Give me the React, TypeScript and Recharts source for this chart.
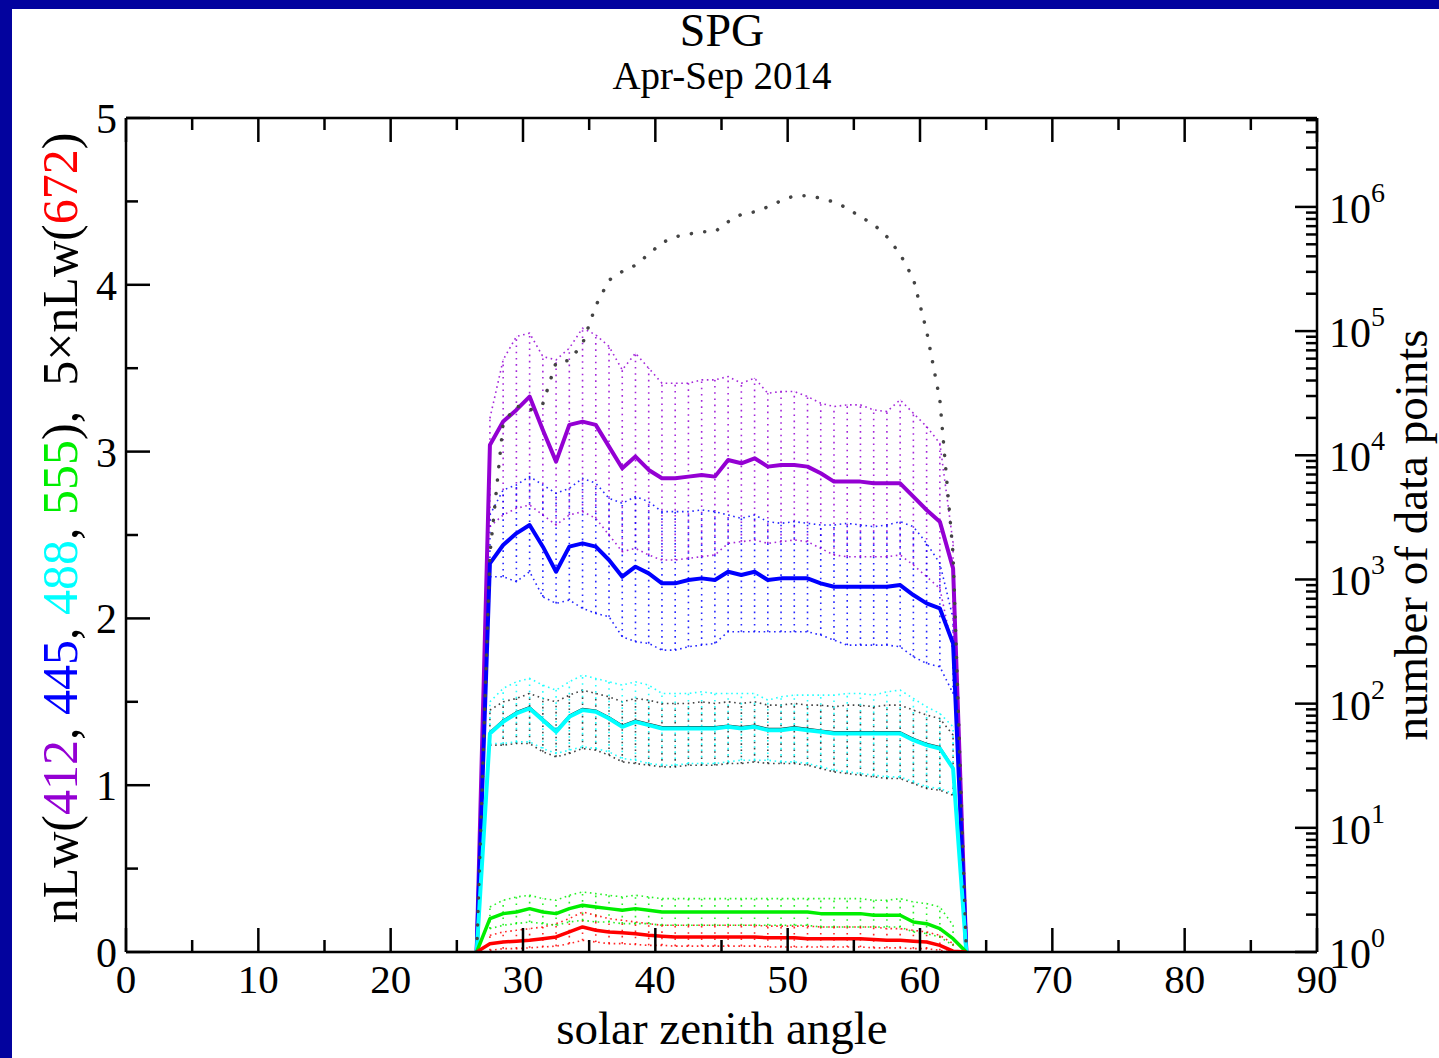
import React from 'react'
import { ComposedChart, Line, XAxis, YAxis, ErrorBar } from 'recharts'

// solar zenith angle bins (deg)
const sza = [
  26.5, 27.5, 28.5, 29.5, 30.5, 31.5, 32.5, 33.5, 34.5, 35.5, 36.5, 37.5, 38.5,
  39.5, 40.5, 41.5, 42.5, 43.5, 44.5, 45.5, 46.5, 47.5, 48.5, 49.5, 50.5, 51.5,
  52.5, 53.5, 54.5, 55.5, 56.5, 57.5, 58.5, 59.5, 60.5, 61.5, 62.5, 63.5,
]

const nlw412 = [0, 3.04, 3.18, 3.25, 3.33, 3.13, 2.94, 3.16, 3.18, 3.16, 3.03, 2.9, 2.97, 2.89, 2.84, 2.84, 2.85, 2.86, 2.85, 2.95, 2.93, 2.96, 2.91, 2.92, 2.92, 2.91, 2.87, 2.82, 2.82, 2.82, 2.81, 2.81, 2.81, 2.73, 2.65, 2.58, 2.3, 0]
const hi412 = [null, 3.2, 3.55, 3.69, 3.71, 3.57, 3.55, 3.62, 3.74, 3.7, 3.63, 3.49, 3.59, 3.5, 3.41, 3.41, 3.41, 3.43, 3.43, 3.45, 3.41, 3.44, 3.35, 3.36, 3.36, 3.33, 3.29, 3.27, 3.28, 3.28, 3.25, 3.24, 3.31, 3.23, 3.15, 3.05, 2.45, null]
const lo412 = [null, 2.55, 2.62, 2.66, 2.68, 2.62, 2.56, 2.62, 2.64, 2.6, 2.5, 2.4, 2.42, 2.38, 2.35, 2.35, 2.36, 2.37, 2.38, 2.45, 2.46, 2.47, 2.45, 2.46, 2.47, 2.46, 2.42, 2.38, 2.37, 2.37, 2.37, 2.37, 2.38, 2.32, 2.25, 2.18, 1.8, null]

const nlw445 = [0, 2.33, 2.44, 2.51, 2.56, 2.43, 2.28, 2.43, 2.45, 2.43, 2.35, 2.25, 2.31, 2.27, 2.21, 2.21, 2.23, 2.24, 2.23, 2.28, 2.26, 2.28, 2.23, 2.24, 2.24, 2.24, 2.21, 2.19, 2.19, 2.19, 2.19, 2.19, 2.2, 2.14, 2.09, 2.06, 1.85, 0]
const hi445 = [null, 2.62, 2.77, 2.8, 2.85, 2.8, 2.75, 2.78, 2.84, 2.81, 2.72, 2.69, 2.73, 2.7, 2.64, 2.64, 2.64, 2.65, 2.64, 2.62, 2.6, 2.62, 2.58, 2.57, 2.58, 2.57, 2.56, 2.56, 2.57, 2.56, 2.55, 2.56, 2.58, 2.55, 2.45, 2.33, 2.0, null]
const lo445 = [null, 2.25, 2.25, 2.22, 2.28, 2.13, 2.09, 2.11, 2.06, 2.03, 2.01, 1.89, 1.86, 1.85, 1.81, 1.81, 1.83, 1.84, 1.85, 1.92, 1.92, 1.92, 1.92, 1.92, 1.92, 1.92, 1.9, 1.87, 1.84, 1.84, 1.84, 1.84, 1.83, 1.77, 1.73, 1.71, 1.55, null]

const nlw488 = [0, 1.31, 1.38, 1.43, 1.46, 1.39, 1.32, 1.41, 1.45, 1.44, 1.4, 1.35, 1.38, 1.36, 1.34, 1.34, 1.34, 1.34, 1.34, 1.35, 1.34, 1.35, 1.33, 1.33, 1.34, 1.33, 1.32, 1.31, 1.31, 1.31, 1.31, 1.31, 1.31, 1.27, 1.24, 1.22, 1.1, 0]
const hi488 = [null, 1.5, 1.58, 1.62, 1.64, 1.6, 1.57, 1.62, 1.66, 1.64, 1.62, 1.6, 1.62, 1.6, 1.55, 1.55, 1.55, 1.56, 1.55, 1.55, 1.55, 1.55, 1.51, 1.53, 1.54, 1.54, 1.54, 1.54, 1.55, 1.55, 1.54, 1.56, 1.57, 1.52, 1.47, 1.43, 1.35, null]
const lo488 = [null, 1.25, 1.25, 1.26, 1.26, 1.22, 1.19, 1.21, 1.23, 1.22, 1.2, 1.16, 1.15, 1.13, 1.12, 1.12, 1.13, 1.13, 1.13, 1.14, 1.15, 1.15, 1.15, 1.14, 1.14, 1.13, 1.11, 1.09, 1.08, 1.07, 1.06, 1.05, 1.05, 1.02, 0.99, 0.98, 0.95, null]

// black reference series riding on the 488 curve
const nlwRef = [0, 1.32, 1.39, 1.44, 1.47, 1.4, 1.33, 1.42, 1.46, 1.45, 1.41, 1.36, 1.39, 1.37, 1.35, 1.35, 1.35, 1.35, 1.35, 1.36, 1.35, 1.36, 1.34, 1.34, 1.35, 1.34, 1.33, 1.32, 1.32, 1.32, 1.32, 1.32, 1.32, 1.28, 1.25, 1.23, 1.11, 0]
const hiRef = [null, 1.45, 1.5, 1.52, 1.55, 1.52, 1.5, 1.54, 1.57, 1.55, 1.53, 1.5, 1.52, 1.51, 1.49, 1.49, 1.49, 1.5, 1.49, 1.5, 1.49, 1.5, 1.48, 1.48, 1.49, 1.48, 1.48, 1.47, 1.48, 1.48, 1.47, 1.48, 1.48, 1.45, 1.42, 1.4, 1.3, null]
const loRef = [null, 1.24, 1.24, 1.25, 1.25, 1.2, 1.17, 1.19, 1.22, 1.21, 1.18, 1.14, 1.13, 1.12, 1.11, 1.11, 1.12, 1.12, 1.12, 1.13, 1.13, 1.14, 1.13, 1.13, 1.13, 1.12, 1.1, 1.08, 1.07, 1.06, 1.05, 1.04, 1.04, 1.01, 0.98, 0.97, 0.94, null]

const nlw555 = [0, 0.2, 0.23, 0.24, 0.26, 0.24, 0.23, 0.26, 0.28, 0.27, 0.26, 0.25, 0.26, 0.25, 0.24, 0.24, 0.24, 0.24, 0.24, 0.24, 0.24, 0.24, 0.24, 0.24, 0.24, 0.24, 0.23, 0.23, 0.23, 0.23, 0.22, 0.22, 0.22, 0.18, 0.17, 0.14, 0.08, 0]
const hi555 = [null, 0.27, 0.31, 0.33, 0.34, 0.32, 0.31, 0.34, 0.36, 0.35, 0.34, 0.33, 0.34, 0.33, 0.32, 0.32, 0.32, 0.32, 0.32, 0.32, 0.32, 0.32, 0.32, 0.32, 0.32, 0.32, 0.32, 0.32, 0.32, 0.32, 0.31, 0.31, 0.32, 0.3, 0.29, 0.27, 0.16, null]
const lo555 = [null, 0.14, 0.16, 0.17, 0.18, 0.17, 0.16, 0.18, 0.19, 0.18, 0.18, 0.17, 0.17, 0.17, 0.16, 0.16, 0.16, 0.16, 0.16, 0.16, 0.16, 0.16, 0.16, 0.16, 0.16, 0.16, 0.15, 0.15, 0.15, 0.15, 0.15, 0.15, 0.15, 0.12, 0.11, 0.09, 0.04, null]

// 5 x nLw(672)
const nlw672 = [0, 0.05, 0.06, 0.065, 0.07, 0.08, 0.09, 0.12, 0.15, 0.13, 0.12, 0.115, 0.11, 0.1, 0.095, 0.09, 0.09, 0.09, 0.09, 0.09, 0.09, 0.09, 0.085, 0.085, 0.085, 0.08, 0.08, 0.08, 0.08, 0.08, 0.075, 0.07, 0.07, 0.065, 0.06, 0.04, 0.005, 0]
const hi672 = [null, 0.1, 0.12, 0.13, 0.14, 0.15, 0.17, 0.2, 0.24, 0.22, 0.2, 0.19, 0.18, 0.17, 0.16, 0.16, 0.16, 0.16, 0.16, 0.16, 0.16, 0.16, 0.155, 0.155, 0.155, 0.155, 0.15, 0.15, 0.15, 0.15, 0.15, 0.14, 0.14, 0.13, 0.12, 0.1, 0.05, null]
const lo672 = [null, 0.01, 0.02, 0.02, 0.025, 0.03, 0.035, 0.05, 0.07, 0.06, 0.05, 0.05, 0.045, 0.04, 0.04, 0.035, 0.035, 0.035, 0.035, 0.035, 0.035, 0.035, 0.03, 0.03, 0.03, 0.03, 0.03, 0.03, 0.03, 0.03, 0.025, 0.025, 0.025, 0.02, 0.02, 0.01, 0.0, null]

// number of data points per bin (right, log axis)
const counts = [1, 1600, 18000, 25000, 23000, 26000, 56000, 58000, 79000, 160000, 257000, 302000, 339000, 417000, 513000, 575000, 603000, 631000, 631000, 759000, 871000, 912000, 1000000, 1122000, 1230000, 1230000, 1175000, 1096000, 977000, 832000, 724000, 575000, 417000, 263000, 100000, 28000, 1600, 1]

const xTicks = [0, 5, 10, 15, 20, 25, 30, 35, 40, 45, 50, 55, 60, 65, 70, 75, 80, 85, 90]
const yTicks = [0, 0.5, 1, 1.5, 2, 2.5, 3, 3.5, 4, 4.5, 5]
const decades = [1, 10, 100, 1000, 10000, 100000, 1000000]
const minorMult = [2, 3, 4, 5, 6, 7, 8, 9]
const countMax = 5.2e6
const countTicks = decades.flatMap((d) => [d, ...minorMult.map((m) => m * d)]).filter((v) => v <= countMax)

const FONT = '"Liberation Serif", "Times New Roman", Times, serif'
const PURPLE = '#9400d3'
const BLUE = '#0000ff'
const CYAN = '#00ffff'
const GREEN = '#00ee00'
const RED = '#ff0000'
const BLACK = '#222222'

const bands = [
  { key: '412', color: PURPLE, mid: nlw412, hi: hi412, lo: lo412, w: 4 },
  { key: '445', color: BLUE, mid: nlw445, hi: hi445, lo: lo445, w: 4 },
  { key: 'ref', color: BLACK, mid: nlwRef, hi: hiRef, lo: loRef, w: 1.5 },
  { key: '488', color: CYAN, mid: nlw488, hi: hi488, lo: lo488, w: 4 },
  { key: '555', color: GREEN, mid: nlw555, hi: hi555, lo: lo555, w: 3.5 },
  { key: '672', color: RED, mid: nlw672, hi: hi672, lo: lo672, w: 3.5 },
]

const rows = sza.map((x, i) => {
  const row: any = { sza: x, count: counts[i] }
  bands.forEach((b) => {
    const hi = b.hi[i]
    const lo = b.lo[i]
    row['v' + b.key] = b.mid[i]
    row['hi' + b.key] = hi
    row['lo' + b.key] = lo
    row['bar' + b.key] = hi != null && lo != null ? [hi - lo, 0] : null
  })
  return row
})

const tickStyle = { stroke: '#000', strokeWidth: 2.5 }

function BottomTick({ x, y, payload }: any) {
  const major = payload.value % 10 === 0
  return (
    <g>
      <line x1={x} y1={y} x2={x} y2={y - (major ? 24 : 12)} {...tickStyle} />
      {major && (
        <text x={x} y={y + 41} textAnchor="middle" fontFamily={FONT} fontSize={41} fill="#000">
          {payload.value}
        </text>
      )}
    </g>
  )
}

function TopTick({ x, y, payload }: any) {
  const major = payload.value % 10 === 0
  return <line x1={x} y1={y} x2={x} y2={y + (major ? 24 : 12)} {...tickStyle} />
}

function LeftTick({ x, y, payload }: any) {
  const major = Number.isInteger(payload.value)
  return (
    <g>
      <line x1={x} y1={y} x2={x + (major ? 24 : 12)} y2={y} {...tickStyle} />
      {major && (
        <text x={x - 9} y={y + 15} textAnchor="end" fontFamily={FONT} fontSize={42} fill="#000">
          {payload.value}
        </text>
      )}
    </g>
  )
}

function RightTick({ x, y, payload }: any) {
  const exp = Math.log10(payload.value)
  const major = Math.abs(exp - Math.round(exp)) < 1e-9
  return (
    <g>
      <line x1={x} y1={y} x2={x - (major ? 22 : 11)} y2={y} {...tickStyle} />
      {major && (
        <text x={x + 12} y={y + 16} fontFamily={FONT} fontSize={42} fill="#000">
          10
          <tspan dy={-21} fontSize={28}>
            {Math.round(exp)}
          </tspan>
        </text>
      )}
    </g>
  )
}

export default function App() {
  return (
    <div style={{ position: 'fixed', left: 0, top: 0, width: 1439, height: 1058, background: '#03039e' }}>
      <div style={{ position: 'absolute', left: 12, top: 9, right: 0, bottom: 0, background: '#fff' }} />
      <div style={{ position: 'absolute', left: 0, top: 0 }}>
        <ComposedChart width={1439} height={1058} data={rows} margin={{ top: 98, right: 62, bottom: 46, left: 66 }}>
          <XAxis
            dataKey="sza"
            type="number"
            domain={[0, 90]}
            ticks={xTicks}
            interval={0}
            height={60}
            tickSize={0}
            tickMargin={0}
            tickLine={false}
            axisLine={tickStyle}
            tick={(p: any) => <BottomTick {...p} />}
            allowDataOverflow
          />
          <XAxis
            xAxisId="top"
            dataKey="sza"
            orientation="top"
            type="number"
            domain={[0, 90]}
            ticks={xTicks}
            interval={0}
            height={20}
            tickSize={0}
            tickMargin={0}
            tickLine={false}
            axisLine={tickStyle}
            tick={(p: any) => <TopTick {...p} />}
            allowDataOverflow
          />
          <YAxis
            type="number"
            domain={[0, 5]}
            ticks={yTicks}
            interval={0}
            width={60}
            tickSize={0}
            tickMargin={0}
            tickLine={false}
            axisLine={tickStyle}
            tick={(p: any) => <LeftTick {...p} />}
            allowDataOverflow
          />
          <YAxis
            yAxisId="right"
            orientation="right"
            scale="log"
            type="number"
            domain={[1, countMax]}
            ticks={countTicks}
            interval={0}
            width={60}
            tickSize={0}
            tickMargin={0}
            tickLine={false}
            axisLine={tickStyle}
            tick={(p: any) => <RightTick {...p} />}
            allowDataOverflow
          />

          {/* keeps the mirrored top axis bound to the data */}
          <Line
            xAxisId="top"
            dataKey="v412"
            stroke="none"
            dot={false}
            activeDot={false}
            isAnimationActive={false}
          />

          {/* min/max envelopes with dotted range bars */}
          {bands.map((b) => (
            <Line
              key={'hi' + b.key}
              dataKey={'hi' + b.key}
              type="linear"
              stroke={b.color}
              strokeWidth={1.6}
              strokeDasharray="1.6 3.6"
              strokeOpacity={0.85}
              dot={false}
              activeDot={false}
              isAnimationActive={false}
            >
              <ErrorBar
                dataKey={'bar' + b.key}
                direction="y"
                width={0}
                stroke={b.color}
                strokeWidth={1.6}
                strokeDasharray="1.6 4.6"
                strokeOpacity={0.85}
              />
            </Line>
          ))}
          {bands.map((b) => (
            <Line
              key={'lo' + b.key}
              dataKey={'lo' + b.key}
              type="linear"
              stroke={b.color}
              strokeWidth={1.6}
              strokeDasharray="1.6 3.6"
              strokeOpacity={0.85}
              dot={false}
              activeDot={false}
              isAnimationActive={false}
            />
          ))}

          {/* mean curves */}
          {bands.map((b) => (
            <Line
              key={'v' + b.key}
              dataKey={'v' + b.key}
              type="linear"
              stroke={b.color}
              strokeWidth={b.w}
              strokeLinejoin="round"
              dot={false}
              activeDot={false}
              isAnimationActive={false}
            />
          ))}

          <Line
            yAxisId="right"
            dataKey="count"
            type="linear"
            stroke="#444"
            strokeWidth={3.5}
            strokeLinecap="round"
            strokeDasharray="0.1 13.4"
            dot={false}
            activeDot={false}
            isAnimationActive={false}
          />
        </ComposedChart>
      </div>
      <svg width={1439} height={1058} style={{ position: 'absolute', left: 0, top: 0, pointerEvents: 'none' }}>
        <g fontFamily={FONT} fill="#000">
          <text x={722} y={46} textAnchor="middle" fontSize={46}>SPG</text>
          <text x={722} y={89} textAnchor="middle" fontSize={39}>Apr-Sep 2014</text>
          <text x={722} y={1044} textAnchor="middle" fontSize={47}>solar zenith angle</text>
          <text transform="translate(77, 528) rotate(-90)" textAnchor="middle" fontSize={50}>
            nLw(<tspan fill={PURPLE}>412</tspan>, <tspan fill={BLUE}>445</tspan>, <tspan fill={CYAN}>488</tspan>,{' '}
            <tspan fill={GREEN}>555</tspan>),{'\u00a0\u00a0'}5×nLw(<tspan fill={RED}>672</tspan>)
          </text>
          <text transform="translate(1427, 535) rotate(-90)" textAnchor="middle" fontSize={47}>
            number of data points
          </text>
        </g>
      </svg>
    </div>
  )
}
